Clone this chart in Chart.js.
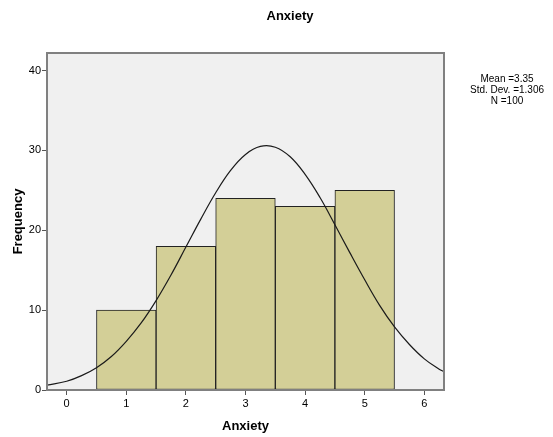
<!DOCTYPE html>
<html>
<head>
<meta charset="utf-8">
<script src="https://cdn.jsdelivr.net/npm/chart.js@4/dist/chart.umd.min.js"></script>
<style>
  html, body { margin: 0; padding: 0; background: #fff; }
  #wrap { width: 553px; height: 437px; }
</style>
</head>
<body>
<div id="wrap"><canvas id="histChart" width="553" height="437"></canvas></div>
<script>
// histogram bins (Anxiety score) and counts
var binCenters = [1, 2, 3, 4, 5];
var binCounts = [10, 18, 24, 23, 25];

// fitted normal curve
var curveX = [-0.33, 0, 0.25, 0.5, 0.75, 1, 1.25, 1.5, 1.75, 2, 2.25, 2.5, 2.75, 3, 3.25, 3.5, 3.75, 4, 4.25, 4.5, 4.75, 5, 5.25, 5.5, 5.75, 6, 6.25, 6.33];
var curveY = [0.6, 1.1, 1.8, 2.8, 4.2, 6.1, 8.4, 11.2, 14.4, 17.9, 21.4, 24.7, 27.5, 29.5, 30.5, 30.4, 29.2, 27.0, 24.1, 20.7, 17.2, 13.8, 10.6, 7.9, 5.7, 3.9, 2.6, 2.3];

var xTicks = [0, 1, 2, 3, 4, 5, 6];
var yTicks = [0, 10, 20, 30, 40];
var statLines = ['Mean =3.35', 'Std. Dev. =1.306', 'N =100'];

var FONT = 'Arial, "Liberation Sans", sans-serif';

var barData = binCenters.map(function (x, i) { return { x: x, y: binCounts[i] }; });
var curveData = curveX.map(function (x, i) { return { x: x, y: curveY[i] }; });

var plotFrame = {
    id: 'plotFrame',
    beforeDatasetsDraw: function (chart) {
        var a = chart.chartArea, ctx = chart.ctx;
        ctx.save();
        ctx.fillStyle = '#f0f0f0';
        ctx.fillRect(a.left, a.top, a.right - a.left, a.bottom - a.top);
        ctx.restore();
    },
    afterDraw: function (chart) {
        var a = chart.chartArea, ctx = chart.ctx;
        ctx.save();
        ctx.strokeStyle = '#808080';
        ctx.lineWidth = 2;
        ctx.strokeRect(a.left, a.top, a.right - a.left, a.bottom - a.top);
        // title
        ctx.fillStyle = '#000';
        ctx.textAlign = 'center';
        ctx.textBaseline = 'middle';
        ctx.font = 'bold 13px ' + FONT;
        ctx.fillText('Anxiety', 290, 16);
        // stats box text
        ctx.font = '10px ' + FONT;
        statLines.forEach(function (t, i) {
            ctx.fillText(t, 507, 79 + i * 11);
        });
        ctx.restore();
    }
};

new Chart(document.getElementById('histChart'), {
    data: {
        datasets: [{
            type: 'line',
            data: curveData,
            borderColor: '#1a1a1a',
            borderWidth: 1.2,
            pointRadius: 0,
            tension: 0.4,
            fill: false,
            order: 0
        }, {
            type: 'bar',
            data: barData,
            backgroundColor: '#d3cf97',
            borderColor: '#222',
            borderWidth: 1,
            borderSkipped: false,
            barPercentage: 1,
            categoryPercentage: 1,
            order: 1
        }]
    },
    options: {
        responsive: false,
        animation: false,
        events: [],
        layout: { padding: { left: 0, top: 53, right: 109, bottom: 0 } },
        plugins: { legend: { display: false }, tooltip: { enabled: false } },
        scales: {
            x: {
                type: 'linear',
                offset: false,
                min: -0.33,
                max: 6.33,
                afterBuildTicks: function (s) { s.ticks = xTicks.map(function (v) { return { value: v }; }); },
                afterFit: function (s) { s.height = 47; },
                grid: { offset: false, drawOnChartArea: false, drawTicks: true, tickLength: 5, color: '#555', lineWidth: 1 },
                border: { display: false },
                ticks: { color: '#000', font: { family: FONT, size: 11 }, padding: 2, maxRotation: 0 },
                title: { display: true, text: 'Anxiety', color: '#000', font: { family: FONT, size: 13, weight: 'bold' }, padding: { top: 8, bottom: 3 } }
            },
            y: {
                min: 0,
                max: 42.2,
                afterBuildTicks: function (s) { s.ticks = yTicks.map(function (v) { return { value: v }; }); },
                afterFit: function (s) { s.width = 47; },
                grid: { drawOnChartArea: false, drawTicks: true, tickLength: 5, color: '#555', lineWidth: 1 },
                border: { display: false },
                ticks: { color: '#000', font: { family: FONT, size: 11 }, padding: 1 },
                title: { display: true, text: 'Frequency', color: '#000', font: { family: FONT, size: 13, weight: 'bold' }, padding: { top: 11, bottom: 0 } }
            }
        }
    },
    plugins: [plotFrame]
});
</script>
</body>
</html>
